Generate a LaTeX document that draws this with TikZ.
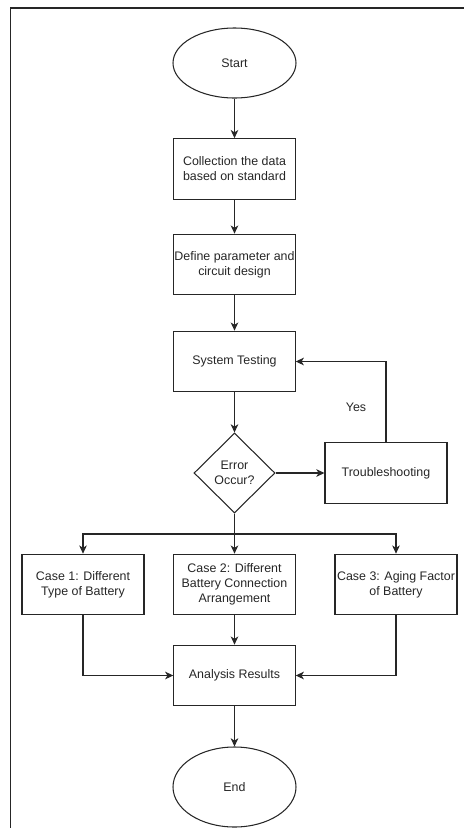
\documentclass[tikz,border=0pt]{standalone}
\usepackage{fontspec}
\setmainfont{Liberation Sans}
\usetikzlibrary{arrows.meta,shapes.geometric}
\begin{document}
\begin{tikzpicture}[x=0.03cm,y=-0.03cm,
  every node/.style={font=\fontsize{10.6}{12.8}\selectfont, text=black!85},
  box/.style={draw=black!85, line width=0.9pt, rectangle, minimum width=3.64cm, minimum height=1.82cm, inner sep=0.5pt, align=center},
  term/.style={draw=black!85, line width=0.9pt, ellipse, minimum width=3.69cm, inner sep=0pt},
  dia/.style={draw=black!85, line width=0.9pt, diamond, minimum width=2.43cm, minimum height=2.4cm, inner sep=0pt},
  conn/.style={line width=0.9pt, draw=black!85},
  arr/.style={conn, -{Stealth[length=7pt, width=6.5pt, inset=2pt]}}
]
\useasboundingbox (0,0) rectangle (463,828);
% frame
\draw[line width=1pt, black!85] (10.5,829) -- (10.5,8) -- (464,8);

\node[term, minimum height=2.1cm] (start) at (234.5,63) {Start};
\node[box] (coll) at (234.5,169) {Collection the data\\based on standard};
\node[box] (def) at (234.5,264.5) {Define parameter and\\circuit design};
\node[box] (sys) at (234.5,361.5) {System Testing};
\node[dia, label={[align=center, font=\fontsize{10.6}{12.8}\selectfont]center:Error\\Occur?}] (dec) at (234.5,473) {};
\node[box, minimum width=3.66cm] (tr) at (386,473) {Troubleshooting};
\node[box, minimum width=3.66cm] (c1) at (83,584.5) {Case 1: Different\\Type of Battery};
\node[box] (c2) at (234.5,584.5) {Case 2: Different\\Battery Connection\\Arrangement};
\node[box, minimum width=3.66cm] (c3) at (396,584.5) {Case 3: Aging Factor\\of Battery};
\node[box] (an) at (234.5,675.5) {Analysis Results};
\node[term, minimum height=2.4cm] (end) at (234.5,787) {End};
\node (yes) at (356,407) {Yes};

\draw[arr] (start) -- (coll);
\draw[arr] (coll) -- (def);
\draw[arr] (def) -- (sys);
\draw[arr] (sys) -- (dec);
\draw[arr] (dec.east) -- (tr.west);
\draw[arr] (tr.north) |- (sys.east);
\coordinate (br) at (234.5,534);
\draw[conn] (dec.south) -- (br);
\draw[arr] (br) -| (c1.north);
\draw[arr] (br) -| (c3.north);
\draw[arr] (br) -- (c2.north);
\draw[arr] (c1.south) |- (an.west);
\draw[arr] (c3.south) |- (an.east);
\draw[arr] (c2) -- (an);
\draw[arr] (an) -- (end);
\end{tikzpicture}
\end{document}
